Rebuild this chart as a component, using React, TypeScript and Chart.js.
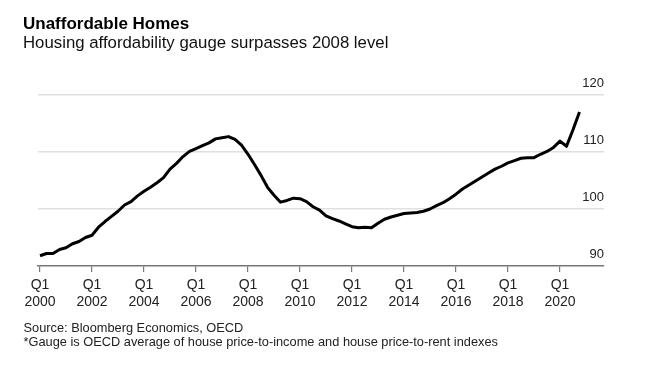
import React, { useEffect, useRef } from 'react';
import { Chart, registerables } from 'chart.js';

Chart.register(...registerables);

// Quarterly series, starting Q1 2000, ending Q4 2020
const startYear = 2000;
const gaugeValues: number[] = [
  91.8, 92.2, 92.2, 92.9, 93.2, 93.9, 94.3, 95.0,
  95.4, 96.8, 97.8, 98.7, 99.6, 100.7, 101.3, 102.3,
  103.1, 103.8, 104.6, 105.5, 107.0, 108.0, 109.2, 110.1,
  110.6, 111.1, 111.6, 112.3, 112.5, 112.7, 112.2, 111.2,
  109.6, 107.8, 105.9, 103.8, 102.4, 101.2, 101.5, 101.9,
  101.8, 101.3, 100.4, 99.8, 98.8, 98.3, 97.9, 97.4,
  96.9, 96.7, 96.8, 96.7, 97.5, 98.2, 98.6, 98.9,
  99.2, 99.3, 99.4, 99.6, 100.0, 100.6, 101.1, 101.8,
  102.6, 103.5, 104.2, 104.9, 105.6, 106.3, 107.0, 107.5,
  108.1, 108.5, 108.9, 109.0, 109.0, 109.6, 110.1, 110.8,
  111.9, 111.0, 113.9, 117.0,
];

const tickQuarter = 'Q1';
const tickYears: string[] = [
  '2000', '2002', '2004', '2006', '2008', '2010',
  '2012', '2014', '2016', '2018', '2020',
];
const yTickValues: number[] = [90, 100, 110, 120];

const titleText = 'Unaffordable Homes';
const subtitleText = 'Housing affordability gauge surpasses 2008 level';
const footerLines: string[] = [
  'Source: Bloomberg Economics, OECD',
  '*Gauge is OECD average of house price-to-income and house price-to-rent indexes',
];

const FONT = '"Liberation Sans", Arial, Helvetica, sans-serif';

export default function App() {
  const ref = useRef<HTMLCanvasElement>(null);

  useEffect(() => {
    const points = gaugeValues.map((v, i) => ({ x: i, y: v }));
    const tickPositions = tickYears.map((y) => (Number(y) - startYear) * 4);

    const chart = new Chart(ref.current as HTMLCanvasElement, {
      type: 'line',
      data: {
        datasets: [
          {
            data: points,
            borderColor: '#000000',
            borderWidth: 3,
            pointRadius: 0,
            tension: 0,
            borderJoinStyle: 'round',
            borderCapStyle: 'butt',
            fill: false,
          },
        ],
      },
      options: {
        animation: false,
        responsive: false,
        layout: { padding: { left: 38, right: 46, top: 95, bottom: 0 } },
        plugins: {
          legend: { display: false },
          tooltip: { enabled: false },
          title: { display: false },
        },
        scales: {
          x: {
            type: 'linear',
            min: -0.31,
            max: 86.77,
            afterBuildTicks: (s: any) => {
              s.ticks = tickPositions.map((v) => ({ value: v }));
            },
            afterFit: (s: any) => {
              s.height = 103;
            },
            ticks: {
              autoSkip: false,
              maxRotation: 0,
              minRotation: 0,
              padding: 5,
              color: '#222222',
              font: { family: FONT, size: 14 },
              callback: (v: any) => {
                const idx = tickPositions.indexOf(Number(v));
                return idx >= 0 ? [tickQuarter, tickYears[idx]] : '';
              },
            },
            grid: {
              drawOnChartArea: false,
              drawTicks: true,
              tickLength: 6,
              color: '#777777',
              lineWidth: 1.2,
            },
            border: { display: true, color: '#777777', width: 1.5 },
          },
          y: {
            type: 'linear',
            position: 'right',
            min: 90,
            max: 120,
            afterBuildTicks: (s: any) => {
              s.ticks = yTickValues.map((v) => ({ value: v }));
            },
            afterFit: (s: any) => {
              s.width = 0;
            },
            ticks: {
              mirror: true,
              padding: 0,
              labelOffset: -12,
              color: '#222222',
              font: { family: FONT, size: 13 },
              callback: (v: any) => String(v),
            },
            grid: {
              color: (ctx: any) =>
                ctx.tick && ctx.tick.value === 90 ? 'rgba(0,0,0,0)' : '#e0e0e0',
              lineWidth: 1.5,
              drawTicks: false,
            },
            border: { display: false },
          },
        },
      },
    });

    return () => {
      chart.destroy();
    };
  }, []);

  return (
    <div
      style={{
        position: 'absolute',
        left: 0,
        top: 0,
        width: 650,
        height: 369,
        background: '#ffffff',
        fontFamily: FONT,
        overflow: 'hidden',
      }}
    >
      <canvas
        ref={ref}
        width={650}
        height={369}
        style={{ position: 'absolute', left: 0, top: 0, width: 650, height: 369 }}
      />
      <div
        style={{
          position: 'absolute',
          left: 23,
          top: 13.5,
          fontSize: 17,
          lineHeight: '20px',
          fontWeight: 700,
          color: '#000000',
          whiteSpace: 'nowrap',
        }}
      >
        {titleText}
      </div>
      <div
        style={{
          position: 'absolute',
          left: 23,
          top: 33.4,
          fontSize: 16.8,
          lineHeight: '20px',
          color: '#111111',
          whiteSpace: 'nowrap',
        }}
      >
        {subtitleText}
      </div>
      <div
        style={{
          position: 'absolute',
          left: 23.5,
          top: 320.9,
          fontSize: 12.8,
          lineHeight: '14.3px',
          color: '#222222',
          whiteSpace: 'nowrap',
        }}
      >
        {footerLines.map((l) => (
          <div key={l}>{l}</div>
        ))}
      </div>
    </div>
  );
}
